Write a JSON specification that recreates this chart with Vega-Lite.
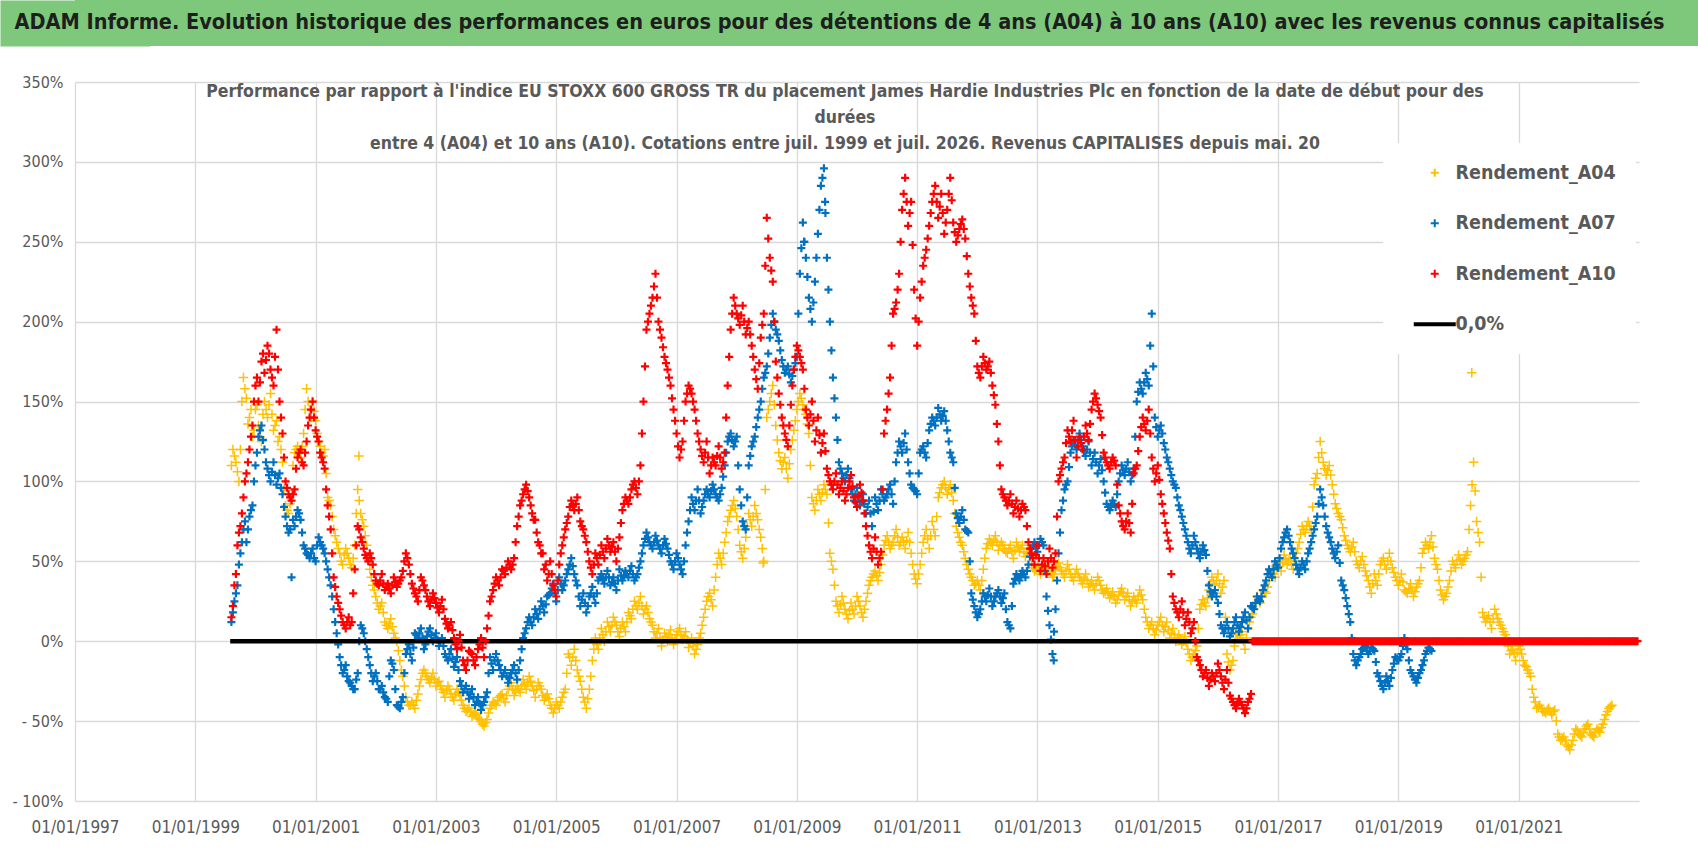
{
  "$schema": "https://vega.github.io/schema/vega-lite/v6.json",
  "padding": 0,
  "background": "white",
  "columns": 1,
  "align": "none",
  "spacing": 28,
  "config": {
    "font": "DejaVu Sans Condensed, Roboto, sans-serif",
    "view": {"stroke": null},
    "axis": {"labelColor": "#595959", "gridColor": "#D9D9D9", "gridWidth": 1.3, "domain": false, "ticks": false, "title": null, "labelFont": "DejaVu Sans Condensed, Roboto, sans-serif"},
    "legend": {"labelFont": "DejaVu Sans Condensed, Roboto, sans-serif"},
    "title": {"font": "DejaVu Sans Condensed, Roboto, sans-serif"}
  },
  "datasets": {
    "r": [
      {"t":1999.60,"a":110,"b":12,"c":15},{"t":1999.65,"a":116,"b":25,"c":35},{"t":1999.70,"a":106,"b":35,"c":60},{"t":1999.75,"a":120,"b":55,"c":72},
      {"t":1999.80,"a":165,"b":70,"c":90},{"t":1999.85,"a":152,"b":62,"c":105},{"t":1999.90,"a":140,"b":78,"c":120},{"t":1999.95,"a":128,"b":85,"c":135},
      {"t":2000.00,"a":145,"b":110,"c":160},{"t":2000.05,"a":135,"b":128,"c":150},{"t":2000.10,"a":125,"b":135,"c":175},{"t":2000.15,"a":150,"b":120,"c":168},
      {"t":2000.20,"a":140,"b":108,"c":185},{"t":2000.25,"a":155,"b":100,"c":170},{"t":2000.30,"a":132,"b":112,"c":160},{"t":2000.35,"a":138,"b":98,"c":195},
      {"t":2000.40,"a":128,"b":105,"c":150},{"t":2000.45,"a":112,"b":92,"c":130},{"t":2000.50,"a":85,"b":78,"c":100},{"t":2000.55,"a":80,"b":68,"c":92},
      {"t":2000.60,"a":92,"b":40,"c":88},{"t":2000.65,"a":118,"b":72,"c":95},{"t":2000.70,"a":122,"b":82,"c":115},{"t":2000.75,"a":115,"b":76,"c":120},
      {"t":2000.80,"a":130,"b":60,"c":110},{"t":2000.85,"a":158,"b":55,"c":125},{"t":2000.90,"a":145,"b":52,"c":140},{"t":2000.95,"a":150,"b":58,"c":150},
      {"t":2001.00,"a":138,"b":50,"c":132},{"t":2001.05,"a":125,"b":65,"c":125},{"t":2001.10,"a":118,"b":60,"c":115},{"t":2001.15,"a":120,"b":55,"c":108},
      {"t":2001.20,"a":90,"b":45,"c":85},{"t":2001.25,"a":85,"b":35,"c":70},{"t":2001.30,"a":70,"b":20,"c":40},{"t":2001.35,"a":62,"b":5,"c":28},
      {"t":2001.40,"a":55,"b":-10,"c":20},{"t":2001.45,"a":48,"b":-20,"c":12},{"t":2001.50,"a":58,"b":-15,"c":8},{"t":2001.55,"a":52,"b":-25,"c":15},
      {"t":2001.60,"a":46,"b":-28,"c":12},{"t":2001.65,"a":60,"b":-30,"c":45},{"t":2001.70,"a":95,"b":-20,"c":72},{"t":2001.75,"a":80,"b":10,"c":65},
      {"t":2001.80,"a":72,"b":5,"c":58},{"t":2001.85,"a":60,"b":-5,"c":52},{"t":2001.90,"a":45,"b":-15,"c":55},{"t":2001.95,"a":35,"b":-25,"c":48},
      {"t":2002.00,"a":28,"b":-20,"c":38},{"t":2002.05,"a":20,"b":-30,"c":35},{"t":2002.10,"a":24,"b":-28,"c":42},{"t":2002.15,"a":12,"b":-35,"c":32},
      {"t":2002.20,"a":8,"b":-38,"c":36},{"t":2002.25,"a":14,"b":-12,"c":30},{"t":2002.30,"a":5,"b":-18,"c":40},{"t":2002.35,"a":0,"b":-40,"c":34},
      {"t":2002.40,"a":-12,"b":-42,"c":38},{"t":2002.45,"a":-22,"b":-35,"c":44},{"t":2002.50,"a":-35,"b":-8,"c":55},{"t":2002.55,"a":-40,"b":-2,"c":48},
      {"t":2002.60,"a":-38,"b":-12,"c":36},{"t":2002.65,"a":-42,"b":5,"c":30},{"t":2002.70,"a":-33,"b":2,"c":25},{"t":2002.75,"a":-24,"b":8,"c":40},
      {"t":2002.80,"a":-18,"b":-5,"c":35},{"t":2002.85,"a":-22,"b":3,"c":28},{"t":2002.90,"a":-26,"b":8,"c":22},{"t":2002.95,"a":-20,"b":0,"c":30},
      {"t":2003.00,"a":-28,"b":5,"c":24},{"t":2003.05,"a":-25,"b":-3,"c":18},{"t":2003.10,"a":-30,"b":2,"c":26},{"t":2003.15,"a":-35,"b":-8,"c":14},
      {"t":2003.20,"a":-28,"b":-12,"c":8},{"t":2003.25,"a":-33,"b":-5,"c":12},{"t":2003.30,"a":-37,"b":-16,"c":2},{"t":2003.35,"a":-30,"b":-10,"c":-5},
      {"t":2003.40,"a":-34,"b":-25,"c":4},{"t":2003.45,"a":-40,"b":-32,"c":-12},{"t":2003.50,"a":-44,"b":-28,"c":-18},{"t":2003.55,"a":-42,"b":-36,"c":-6},
      {"t":2003.60,"a":-47,"b":-30,"c":-8},{"t":2003.65,"a":-45,"b":-40,"c":-15},{"t":2003.70,"a":-48,"b":-35,"c":-5},{"t":2003.75,"a":-50,"b":-43,"c":2},
      {"t":2003.80,"a":-53,"b":-38,"c":-10},{"t":2003.85,"a":-49,"b":-32,"c":8},{"t":2003.90,"a":-42,"b":-10,"c":25},{"t":2003.95,"a":-38,"b":-18,"c":32},
      {"t":2004.00,"a":-40,"b":-8,"c":40},{"t":2004.05,"a":-35,"b":-15,"c":35},{"t":2004.10,"a":-33,"b":-22,"c":45},{"t":2004.15,"a":-38,"b":-18,"c":42},
      {"t":2004.20,"a":-30,"b":-26,"c":50},{"t":2004.25,"a":-26,"b":-20,"c":45},{"t":2004.30,"a":-34,"b":-15,"c":52},{"t":2004.35,"a":-28,"b":-24,"c":72},
      {"t":2004.40,"a":-32,"b":-12,"c":85},{"t":2004.45,"a":-24,"b":2,"c":92},{"t":2004.50,"a":-30,"b":8,"c":98},{"t":2004.55,"a":-22,"b":15,"c":90},
      {"t":2004.60,"a":-28,"b":10,"c":80},{"t":2004.65,"a":-35,"b":20,"c":76},{"t":2004.70,"a":-26,"b":14,"c":62},{"t":2004.75,"a":-30,"b":25,"c":55},
      {"t":2004.80,"a":-37,"b":18,"c":45},{"t":2004.85,"a":-33,"b":28,"c":38},{"t":2004.90,"a":-40,"b":30,"c":50},{"t":2004.95,"a":-45,"b":36,"c":35},
      {"t":2005.00,"a":-38,"b":25,"c":28},{"t":2005.05,"a":-42,"b":40,"c":48},{"t":2005.10,"a":-35,"b":32,"c":60},{"t":2005.15,"a":-30,"b":38,"c":70},
      {"t":2005.20,"a":-8,"b":45,"c":78},{"t":2005.25,"a":-15,"b":52,"c":88},{"t":2005.30,"a":-5,"b":42,"c":82},{"t":2005.35,"a":-18,"b":35,"c":90},
      {"t":2005.40,"a":-25,"b":22,"c":75},{"t":2005.45,"a":-35,"b":30,"c":70},{"t":2005.50,"a":-42,"b":18,"c":62},{"t":2005.55,"a":-30,"b":28,"c":50},
      {"t":2005.60,"a":-12,"b":34,"c":42},{"t":2005.65,"a":2,"b":24,"c":55},{"t":2005.70,"a":-5,"b":38,"c":48},{"t":2005.75,"a":8,"b":42,"c":60},
      {"t":2005.80,"a":0,"b":36,"c":52},{"t":2005.85,"a":12,"b":44,"c":64},{"t":2005.90,"a":6,"b":35,"c":56},{"t":2005.95,"a":15,"b":40,"c":62},
      {"t":2006.00,"a":10,"b":32,"c":50},{"t":2006.05,"a":3,"b":45,"c":65},{"t":2006.10,"a":12,"b":38,"c":82},{"t":2006.15,"a":6,"b":44,"c":90},
      {"t":2006.20,"a":18,"b":40,"c":86},{"t":2006.25,"a":14,"b":47,"c":95},{"t":2006.30,"a":25,"b":38,"c":100},{"t":2006.35,"a":20,"b":42,"c":92},
      {"t":2006.40,"a":28,"b":50,"c":110},{"t":2006.45,"a":17,"b":60,"c":150},{"t":2006.50,"a":22,"b":68,"c":195},{"t":2006.55,"a":14,"b":62,"c":205},
      {"t":2006.60,"a":10,"b":58,"c":215},{"t":2006.65,"a":2,"b":66,"c":230},{"t":2006.70,"a":8,"b":60,"c":200},{"t":2006.75,"a":-3,"b":55,"c":190},
      {"t":2006.80,"a":5,"b":64,"c":178},{"t":2006.85,"a":0,"b":58,"c":170},{"t":2006.90,"a":7,"b":50,"c":160},{"t":2006.95,"a":-2,"b":45,"c":145},
      {"t":2007.00,"a":4,"b":55,"c":130},{"t":2007.05,"a":8,"b":48,"c":115},{"t":2007.10,"a":1,"b":42,"c":125},{"t":2007.15,"a":6,"b":60,"c":150},
      {"t":2007.20,"a":-4,"b":75,"c":160},{"t":2007.25,"a":2,"b":90,"c":155},{"t":2007.30,"a":-8,"b":82,"c":145},{"t":2007.35,"a":-2,"b":95,"c":130},
      {"t":2007.40,"a":5,"b":80,"c":120},{"t":2007.45,"a":15,"b":88,"c":112},{"t":2007.50,"a":25,"b":95,"c":125},{"t":2007.55,"a":30,"b":90,"c":105},
      {"t":2007.60,"a":22,"b":98,"c":115},{"t":2007.65,"a":40,"b":92,"c":110},{"t":2007.70,"a":55,"b":88,"c":122},{"t":2007.75,"a":48,"b":96,"c":108},
      {"t":2007.80,"a":62,"b":110,"c":118},{"t":2007.85,"a":75,"b":125,"c":160},{"t":2007.90,"a":82,"b":130,"c":195},{"t":2007.95,"a":88,"b":122,"c":215},
      {"t":2008.00,"a":78,"b":128,"c":205},{"t":2008.05,"a":60,"b":95,"c":198},{"t":2008.10,"a":52,"b":75,"c":210},{"t":2008.15,"a":65,"b":70,"c":192},
      {"t":2008.20,"a":80,"b":110,"c":200},{"t":2008.25,"a":72,"b":122,"c":185},{"t":2008.30,"a":85,"b":128,"c":170},{"t":2008.35,"a":76,"b":140,"c":158},
      {"t":2008.40,"a":65,"b":150,"c":190},{"t":2008.45,"a":50,"b":165,"c":205},{"t":2008.50,"a":140,"b":172,"c":265},{"t":2008.55,"a":150,"b":190,"c":240},
      {"t":2008.60,"a":160,"b":205,"c":225},{"t":2008.65,"a":135,"b":195,"c":175},{"t":2008.70,"a":118,"b":188,"c":155},{"t":2008.75,"a":108,"b":176,"c":140},
      {"t":2008.80,"a":115,"b":168,"c":130},{"t":2008.85,"a":102,"b":172,"c":122},{"t":2008.90,"a":120,"b":162,"c":148},{"t":2008.95,"a":132,"b":170,"c":170},
      {"t":2009.00,"a":145,"b":178,"c":185},{"t":2009.05,"a":155,"b":230,"c":178},{"t":2009.10,"a":148,"b":262,"c":170},{"t":2009.15,"a":142,"b":240,"c":145},
      {"t":2009.20,"a":130,"b":215,"c":135},{"t":2009.25,"a":90,"b":200,"c":150},{"t":2009.30,"a":82,"b":225,"c":125},{"t":2009.35,"a":95,"b":255,"c":140},
      {"t":2009.40,"a":88,"b":285,"c":118},{"t":2009.45,"a":98,"b":296,"c":130},{"t":2009.50,"a":92,"b":240,"c":108},{"t":2009.55,"a":55,"b":200,"c":100},
      {"t":2009.60,"a":45,"b":165,"c":95},{"t":2009.65,"a":25,"b":140,"c":105},{"t":2009.70,"a":18,"b":112,"c":92},{"t":2009.75,"a":28,"b":105,"c":100},
      {"t":2009.80,"a":20,"b":100,"c":88},{"t":2009.85,"a":14,"b":108,"c":96},{"t":2009.90,"a":24,"b":95,"c":104},{"t":2009.95,"a":17,"b":88,"c":90},
      {"t":2010.00,"a":28,"b":96,"c":84},{"t":2010.05,"a":22,"b":85,"c":98},{"t":2010.10,"a":15,"b":92,"c":88},{"t":2010.15,"a":25,"b":80,"c":72},
      {"t":2010.20,"a":35,"b":88,"c":60},{"t":2010.25,"a":40,"b":72,"c":52},{"t":2010.30,"a":44,"b":90,"c":65},{"t":2010.35,"a":38,"b":82,"c":48},
      {"t":2010.40,"a":48,"b":95,"c":56},{"t":2010.45,"a":60,"b":88,"c":130},{"t":2010.50,"a":66,"b":92,"c":145},{"t":2010.55,"a":58,"b":98,"c":165},
      {"t":2010.60,"a":62,"b":86,"c":205},{"t":2010.65,"a":70,"b":112,"c":212},{"t":2010.70,"a":60,"b":125,"c":230},{"t":2010.75,"a":65,"b":118,"c":270},
      {"t":2010.80,"a":58,"b":130,"c":290},{"t":2010.85,"a":68,"b":112,"c":260},{"t":2010.90,"a":55,"b":98,"c":275},{"t":2010.95,"a":42,"b":95,"c":220},
      {"t":2011.00,"a":36,"b":92,"c":185},{"t":2011.05,"a":48,"b":118,"c":215},{"t":2011.10,"a":62,"b":122,"c":235},{"t":2011.15,"a":70,"b":115,"c":245},
      {"t":2011.20,"a":58,"b":132,"c":260},{"t":2011.25,"a":75,"b":140,"c":275},{"t":2011.30,"a":66,"b":135,"c":285},{"t":2011.35,"a":90,"b":146,"c":265},
      {"t":2011.40,"a":96,"b":138,"c":280},{"t":2011.45,"a":100,"b":144,"c":255},{"t":2011.50,"a":92,"b":132,"c":270},{"t":2011.55,"a":98,"b":118,"c":290},
      {"t":2011.60,"a":88,"b":112,"c":262},{"t":2011.65,"a":72,"b":80,"c":250},{"t":2011.70,"a":65,"b":74,"c":258},{"t":2011.75,"a":60,"b":82,"c":264},
      {"t":2011.80,"a":52,"b":70,"c":252},{"t":2011.85,"a":45,"b":68,"c":230},{"t":2011.90,"a":40,"b":30,"c":215},{"t":2011.95,"a":35,"b":22,"c":205},
      {"t":2012.00,"a":38,"b":15,"c":172},{"t":2012.05,"a":32,"b":20,"c":165},{"t":2012.10,"a":45,"b":30,"c":178},{"t":2012.15,"a":58,"b":25,"c":170},
      {"t":2012.20,"a":64,"b":33,"c":175},{"t":2012.25,"a":60,"b":22,"c":160},{"t":2012.30,"a":66,"b":28,"c":148},{"t":2012.35,"a":57,"b":32,"c":125},
      {"t":2012.40,"a":62,"b":24,"c":95},{"t":2012.45,"a":58,"b":30,"c":90},{"t":2012.50,"a":55,"b":12,"c":85},{"t":2012.55,"a":60,"b":8,"c":92},
      {"t":2012.60,"a":52,"b":36,"c":80},{"t":2012.65,"a":62,"b":42,"c":88},{"t":2012.70,"a":56,"b":38,"c":78},{"t":2012.75,"a":60,"b":44,"c":86},
      {"t":2012.80,"a":53,"b":40,"c":82},{"t":2012.85,"a":58,"b":48,"c":62},{"t":2012.90,"a":48,"b":58,"c":55},{"t":2012.95,"a":44,"b":62,"c":48},
      {"t":2013.00,"a":47,"b":56,"c":60},{"t":2013.05,"a":42,"b":64,"c":44},{"t":2013.10,"a":48,"b":60,"c":52},{"t":2013.15,"a":43,"b":28,"c":42},
      {"t":2013.20,"a":46,"b":10,"c":58},{"t":2013.25,"a":40,"b":-8,"c":46},{"t":2013.30,"a":45,"b":20,"c":55},{"t":2013.35,"a":49,"b":55,"c":100},
      {"t":2013.40,"a":44,"b":82,"c":108},{"t":2013.45,"a":40,"b":95,"c":115},{"t":2013.50,"a":48,"b":100,"c":132},{"t":2013.55,"a":42,"b":118,"c":125},
      {"t":2013.60,"a":38,"b":126,"c":138},{"t":2013.65,"a":45,"b":120,"c":115},{"t":2013.70,"a":40,"b":130,"c":128},{"t":2013.75,"a":36,"b":122,"c":120},
      {"t":2013.80,"a":42,"b":116,"c":135},{"t":2013.85,"a":34,"b":125,"c":126},{"t":2013.90,"a":38,"b":110,"c":145},{"t":2013.95,"a":32,"b":118,"c":155},
      {"t":2014.00,"a":40,"b":105,"c":148},{"t":2014.05,"a":35,"b":114,"c":140},{"t":2014.10,"a":30,"b":100,"c":118},{"t":2014.15,"a":33,"b":86,"c":112},
      {"t":2014.20,"a":27,"b":82,"c":108},{"t":2014.25,"a":31,"b":88,"c":115},{"t":2014.30,"a":24,"b":84,"c":110},{"t":2014.35,"a":29,"b":100,"c":85},
      {"t":2014.40,"a":33,"b":110,"c":75},{"t":2014.45,"a":26,"b":104,"c":70},{"t":2014.50,"a":30,"b":112,"c":80},{"t":2014.55,"a":22,"b":100,"c":68},
      {"t":2014.60,"a":28,"b":108,"c":105},{"t":2014.65,"a":24,"b":150,"c":110},{"t":2014.70,"a":32,"b":162,"c":128},{"t":2014.75,"a":26,"b":155,"c":140},
      {"t":2014.80,"a":15,"b":168,"c":132},{"t":2014.85,"a":8,"b":160,"c":145},{"t":2014.90,"a":12,"b":205,"c":115},{"t":2014.95,"a":4,"b":140,"c":100},
      {"t":2015.00,"a":10,"b":128,"c":110},{"t":2015.05,"a":15,"b":135,"c":92},{"t":2015.10,"a":6,"b":124,"c":80},{"t":2015.15,"a":12,"b":115,"c":68},
      {"t":2015.20,"a":2,"b":108,"c":58},{"t":2015.25,"a":8,"b":100,"c":28},{"t":2015.30,"a":0,"b":96,"c":20},{"t":2015.35,"a":4,"b":85,"c":15},
      {"t":2015.40,"a":-2,"b":78,"c":25},{"t":2015.45,"a":3,"b":70,"c":10},{"t":2015.50,"a":-5,"b":62,"c":18},{"t":2015.55,"a":-12,"b":55,"c":5},
      {"t":2015.60,"a":-8,"b":66,"c":12},{"t":2015.65,"a":-3,"b":58,"c":-10},{"t":2015.70,"a":20,"b":52,"c":-15},{"t":2015.75,"a":26,"b":60,"c":-22},
      {"t":2015.80,"a":22,"b":54,"c":-18},{"t":2015.85,"a":32,"b":35,"c":-28},{"t":2015.90,"a":40,"b":28,"c":-20},{"t":2015.95,"a":35,"b":32,"c":-25},
      {"t":2016.00,"a":42,"b":24,"c":-14},{"t":2016.05,"a":30,"b":10,"c":-22},{"t":2016.10,"a":38,"b":5,"c":-30},{"t":2016.15,"a":-8,"b":12,"c":-18},
      {"t":2016.20,"a":-18,"b":3,"c":-34},{"t":2016.25,"a":-12,"b":8,"c":-38},{"t":2016.30,"a":5,"b":15,"c":-42},{"t":2016.35,"a":2,"b":6,"c":-36},
      {"t":2016.40,"a":6,"b":12,"c":-40},{"t":2016.45,"a":-5,"b":18,"c":-45},{"t":2016.50,"a":8,"b":8,"c":-38},{"t":2016.55,"a":15,"b":22,"c":-33},
      {"t":2016.60,"a":20,"b":20,"c":0},{"t":2016.65,"a":28,"b":28,"c":0},{"t":2016.70,"a":24,"b":25,"c":0},{"t":2016.75,"a":32,"b":32,"c":0},
      {"t":2016.80,"a":30,"b":38,"c":0},{"t":2016.85,"a":38,"b":45,"c":0},{"t":2016.90,"a":45,"b":40,"c":0},{"t":2016.95,"a":40,"b":50,"c":0},
      {"t":2017.00,"a":50,"b":46,"c":0},{"t":2017.05,"a":44,"b":58,"c":0},{"t":2017.10,"a":54,"b":65,"c":0},{"t":2017.15,"a":48,"b":70,"c":0},
      {"t":2017.20,"a":52,"b":62,"c":0},{"t":2017.25,"a":45,"b":55,"c":0},{"t":2017.30,"a":55,"b":48,"c":0},{"t":2017.35,"a":62,"b":42,"c":0},
      {"t":2017.40,"a":72,"b":50,"c":0},{"t":2017.45,"a":68,"b":45,"c":0},{"t":2017.50,"a":75,"b":55,"c":0},{"t":2017.55,"a":70,"b":62,"c":0},
      {"t":2017.60,"a":98,"b":70,"c":0},{"t":2017.65,"a":105,"b":78,"c":0},{"t":2017.70,"a":125,"b":95,"c":0},{"t":2017.75,"a":112,"b":85,"c":0},
      {"t":2017.80,"a":104,"b":72,"c":0},{"t":2017.85,"a":110,"b":65,"c":0},{"t":2017.90,"a":98,"b":58,"c":0},{"t":2017.95,"a":86,"b":52,"c":0},
      {"t":2018.00,"a":80,"b":60,"c":0},{"t":2018.05,"a":76,"b":38,"c":0},{"t":2018.10,"a":66,"b":32,"c":0},{"t":2018.15,"a":60,"b":22,"c":0},
      {"t":2018.20,"a":56,"b":12,"c":0},{"t":2018.25,"a":62,"b":-8,"c":0},{"t":2018.30,"a":50,"b":-15,"c":0},{"t":2018.35,"a":46,"b":-10,"c":0},
      {"t":2018.40,"a":53,"b":-5,"c":0},{"t":2018.45,"a":44,"b":-3,"c":0},{"t":2018.50,"a":38,"b":-8,"c":0},{"t":2018.55,"a":30,"b":-4,"c":0},
      {"t":2018.60,"a":42,"b":-6,"c":0},{"t":2018.65,"a":35,"b":-20,"c":0},{"t":2018.70,"a":48,"b":-25,"c":0},{"t":2018.75,"a":52,"b":-30,"c":0},
      {"t":2018.80,"a":45,"b":-22,"c":0},{"t":2018.85,"a":55,"b":-28,"c":0},{"t":2018.90,"a":46,"b":-18,"c":0},{"t":2018.95,"a":40,"b":-10,"c":0},
      {"t":2019.00,"a":35,"b":-12,"c":0},{"t":2019.05,"a":42,"b":-8,"c":0},{"t":2019.10,"a":32,"b":2,"c":0},{"t":2019.15,"a":30,"b":-5,"c":0},
      {"t":2019.20,"a":36,"b":-18,"c":0},{"t":2019.25,"a":28,"b":-22,"c":0},{"t":2019.30,"a":34,"b":-26,"c":0},{"t":2019.35,"a":38,"b":-20,"c":0},
      {"t":2019.40,"a":55,"b":-15,"c":0},{"t":2019.45,"a":62,"b":-8,"c":0},{"t":2019.50,"a":58,"b":-4,"c":0},{"t":2019.55,"a":66,"b":-6,"c":0},
      {"t":2019.60,"a":52,"c":0},{"t":2019.65,"a":45,"c":0},{"t":2019.70,"a":32,"c":0},{"t":2019.75,"a":26,"c":0},
      {"t":2019.80,"a":30,"c":0},{"t":2019.85,"a":38,"c":0},{"t":2019.90,"a":50,"c":0},{"t":2019.95,"a":46,"c":0},
      {"t":2020.00,"a":54,"c":0},{"t":2020.05,"a":48,"c":0},{"t":2020.10,"a":52,"c":0},{"t":2020.15,"a":56,"c":0},
      {"t":2020.20,"a":85,"c":0},{"t":2020.25,"a":112,"c":0},{"t":2020.30,"a":75,"c":0},{"t":2020.35,"a":62,"c":0},
      {"t":2020.40,"a":18,"c":0},{"t":2020.45,"a":12,"c":0},{"t":2020.50,"a":16,"c":0},{"t":2020.55,"a":8,"c":0},
      {"t":2020.60,"a":20,"c":0},{"t":2020.65,"a":14,"c":0},{"t":2020.70,"a":10,"c":0},{"t":2020.75,"a":6,"c":0},
      {"t":2020.80,"a":2,"c":0},{"t":2020.85,"a":-8,"c":0},{"t":2020.90,"a":-5,"c":0},{"t":2020.95,"a":-12,"c":0},
      {"t":2021.00,"a":-3,"c":0},{"t":2021.05,"a":-8,"c":0},{"t":2021.10,"a":-15,"c":0},{"t":2021.15,"a":-18,"c":0},
      {"t":2021.20,"a":-22,"c":0},{"t":2021.25,"a":-35,"c":0},{"t":2021.30,"a":-42,"c":0},{"t":2021.35,"a":-40,"c":0},
      {"t":2021.40,"a":-44,"c":0},{"t":2021.45,"a":-45,"c":0},{"t":2021.50,"a":-42,"c":0},{"t":2021.55,"a":-46,"c":0},
      {"t":2021.60,"a":-43,"c":0},{"t":2021.65,"a":-58,"c":0},{"t":2021.70,"a":-62,"c":0},{"t":2021.75,"a":-60,"c":0},
      {"t":2021.80,"a":-65,"c":0},{"t":2021.85,"a":-68,"c":0},{"t":2021.90,"a":-62,"c":0},{"t":2021.95,"a":-55,"c":0},
      {"t":2022.00,"a":-58,"c":0},{"t":2022.05,"a":-60,"c":0},{"t":2022.10,"a":-55,"c":0},{"t":2022.15,"a":-52,"c":0},
      {"t":2022.20,"a":-58,"c":0},{"t":2022.25,"a":-60,"c":0},{"t":2022.30,"a":-55,"c":0},{"t":2022.35,"a":-57,"c":0},
      {"t":2022.40,"a":-52,"c":0},{"t":2022.45,"a":-46,"c":0},{"t":2022.50,"a":-42,"c":0},{"t":2022.55,"a":-40,"c":0},
      {"t":2022.60,"c":0},{"t":2022.65,"c":0},{"t":2022.70,"c":0},{"t":2022.75,"c":0},
      {"t":2022.80,"c":0},{"t":2022.85,"c":0},{"t":2022.90,"c":0},{"t":2022.95,"c":0},
      {"t":2020.22,"a":168},{"t":2001.72,"a":116},{"t":2013.27,"b":-12},{"t":2008.44,"a":49},{"t":2009.47,"b":275},{"t":2009.12,"b":250},

      {"t":1999.625,"a":120,"b":18,"c":22},{"t":1999.675,"a":112,"b":30,"c":42},{"t":1999.725,"a":100,"b":48,"c":68},{"t":1999.775,"a":150,"b":62,"c":80},
      {"t":1999.825,"a":158,"b":75,"c":100},{"t":1999.875,"a":136,"b":70,"c":112},{"t":1999.925,"a":145,"b":82,"c":128},{"t":1999.975,"a":132,"b":100,"c":150},
      {"t":2000.025,"a":148,"b":118,"c":165},{"t":2000.075,"a":128,"b":132,"c":162},{"t":2000.125,"a":142,"b":126,"c":180},{"t":2000.175,"a":145,"b":112,"c":176},
      {"t":2000.225,"a":148,"b":104,"c":180},{"t":2000.275,"a":142,"b":106,"c":165},{"t":2000.325,"a":135,"b":104,"c":178},{"t":2000.375,"a":125,"b":102,"c":170},
      {"t":2000.425,"a":120,"b":96,"c":140},{"t":2000.475,"a":95,"b":84,"c":115},{"t":2000.525,"a":82,"b":72,"c":96},{"t":2000.575,"a":86,"b":70,"c":90},
      {"t":2000.625,"a":110,"b":76,"c":92},{"t":2000.675,"a":120,"b":78,"c":108},{"t":2000.725,"a":118,"b":80,"c":118},{"t":2000.775,"a":122,"b":68,"c":112},
      {"t":2000.825,"a":145,"b":58,"c":118},{"t":2000.875,"a":150,"b":54,"c":135},{"t":2000.925,"a":140,"b":55,"c":145},{"t":2000.975,"a":144,"b":52,"c":140},
      {"t":2001.025,"a":130,"b":60,"c":128},{"t":2001.075,"a":122,"b":62,"c":118},{"t":2001.125,"a":116,"b":58,"c":112},{"t":2001.175,"a":105,"b":50,"c":95},
      {"t":2001.225,"a":88,"b":40,"c":78},{"t":2001.275,"a":78,"b":28,"c":55},{"t":2001.325,"a":66,"b":12,"c":34},{"t":2001.375,"a":58,"b":-2,"c":24},
      {"t":2001.425,"a":50,"b":-15,"c":16},{"t":2001.475,"a":54,"b":-18,"c":10},{"t":2001.525,"a":55,"b":-22,"c":12},{"t":2001.575,"a":48,"b":-26,"c":10},
      {"t":2001.625,"a":52,"b":-30,"c":30},{"t":2001.675,"a":80,"b":-24,"c":60},{"t":2001.725,"a":88,"b":0,"c":70},{"t":2001.775,"a":76,"b":8,"c":62},
      {"t":2001.825,"a":66,"b":0,"c":54},{"t":2001.875,"a":52,"b":-10,"c":50},{"t":2001.925,"a":40,"b":-20,"c":52},{"t":2001.975,"a":32,"b":-22,"c":42},
      {"t":2002.025,"a":24,"b":-25,"c":36},{"t":2002.075,"a":22,"b":-30,"c":38},{"t":2002.125,"a":18,"b":-32,"c":36},{"t":2002.175,"a":10,"b":-36,"c":34},
      {"t":2002.225,"a":11,"b":-22,"c":33},{"t":2002.275,"a":9,"b":-14,"c":35},{"t":2002.325,"a":2,"b":-30,"c":37},{"t":2002.375,"a":-6,"b":-41,"c":36},
      {"t":2002.425,"a":-18,"b":-38,"c":40},{"t":2002.475,"a":-28,"b":-20,"c":50},{"t":2002.525,"a":-38,"b":-5,"c":52},{"t":2002.575,"a":-40,"b":-8,"c":42},
      {"t":2002.625,"a":-40,"b":-4,"c":33},{"t":2002.675,"a":-37,"b":4,"c":28},{"t":2002.725,"a":-28,"b":5,"c":32},{"t":2002.775,"a":-20,"b":2,"c":38},
      {"t":2002.825,"a":-20,"b":-2,"c":32},{"t":2002.875,"a":-24,"b":6,"c":25},{"t":2002.925,"a":-23,"b":4,"c":26},{"t":2002.975,"a":-24,"b":2,"c":27},
      {"t":2003.025,"a":-26,"b":1,"c":21},{"t":2003.075,"a":-28,"b":0,"c":22},{"t":2003.125,"a":-32,"b":-3,"c":20},{"t":2003.175,"a":-31,"b":-10,"c":11},
      {"t":2003.225,"a":-30,"b":-8,"c":10},{"t":2003.275,"a":-35,"b":-11,"c":7},{"t":2003.325,"a":-33,"b":-13,"c":-2},{"t":2003.375,"a":-32,"b":-18,"c":0},
      {"t":2003.425,"a":-37,"b":-28,"c":-4},{"t":2003.475,"a":-42,"b":-30,"c":-15},{"t":2003.525,"a":-43,"b":-32,"c":-12},{"t":2003.575,"a":-44,"b":-33,"c":-7},
      {"t":2003.625,"a":-46,"b":-35,"c":-12},{"t":2003.675,"a":-46,"b":-38,"c":-10},{"t":2003.725,"a":-49,"b":-39,"c":-2},{"t":2003.775,"a":-52,"b":-40,"c":-4},
      {"t":2003.825,"a":-51,"b":-35,"c":0},{"t":2003.875,"a":-45,"b":-20,"c":16},{"t":2003.925,"a":-40,"b":-14,"c":28},{"t":2003.975,"a":-39,"b":-12,"c":36},
      {"t":2004.025,"a":-37,"b":-12,"c":38},{"t":2004.075,"a":-34,"b":-18,"c":40},{"t":2004.125,"a":-36,"b":-20,"c":44},{"t":2004.175,"a":-34,"b":-22,"c":46},
      {"t":2004.225,"a":-28,"b":-23,"c":48},{"t":2004.275,"a":-30,"b":-18,"c":48},{"t":2004.325,"a":-31,"b":-20,"c":62},{"t":2004.375,"a":-30,"b":-18,"c":78},
      {"t":2004.425,"a":-28,"b":-5,"c":88},{"t":2004.475,"a":-27,"b":5,"c":95},{"t":2004.525,"a":-26,"b":12,"c":94},{"t":2004.575,"a":-25,"b":12,"c":85},
      {"t":2004.625,"a":-31,"b":15,"c":76},{"t":2004.675,"a":-30,"b":17,"c":68},{"t":2004.725,"a":-28,"b":20,"c":60},{"t":2004.775,"a":-34,"b":22,"c":55},
      {"t":2004.825,"a":-35,"b":23,"c":48},{"t":2004.875,"a":-36,"b":29,"c":42},{"t":2004.925,"a":-42,"b":33,"c":42},{"t":2004.975,"a":-42,"b":30,"c":32},
      {"t":2005.025,"a":-40,"b":32,"c":38},{"t":2005.075,"a":-38,"b":36,"c":55},{"t":2005.125,"a":-32,"b":35,"c":65},{"t":2005.175,"a":-20,"b":42,"c":74},
      {"t":2005.225,"a":-10,"b":48,"c":84},{"t":2005.275,"a":-10,"b":47,"c":85},{"t":2005.325,"a":-12,"b":38,"c":86},{"t":2005.375,"a":-22,"b":28,"c":82},
      {"t":2005.425,"a":-30,"b":26,"c":72},{"t":2005.475,"a":-38,"b":24,"c":66},{"t":2005.525,"a":-36,"b":22,"c":56},{"t":2005.575,"a":-22,"b":30,"c":46},
      {"t":2005.625,"a":-5,"b":28,"c":48},{"t":2005.675,"a":-2,"b":30,"c":52},{"t":2005.725,"a":2,"b":40,"c":54},{"t":2005.775,"a":4,"b":39,"c":56},
      {"t":2005.825,"a":6,"b":40,"c":58},{"t":2005.875,"a":9,"b":40,"c":60},{"t":2005.925,"a":10,"b":37,"c":59},{"t":2005.975,"a":12,"b":36,"c":56},
      {"t":2006.025,"a":6,"b":38,"c":58},{"t":2006.075,"a":8,"b":41,"c":74},{"t":2006.125,"a":9,"b":41,"c":86},{"t":2006.175,"a":12,"b":42,"c":88},
      {"t":2006.225,"a":16,"b":44,"c":90},{"t":2006.275,"a":20,"b":42,"c":98},{"t":2006.325,"a":22,"b":40,"c":96},{"t":2006.375,"a":24,"b":46,"c":100},
      {"t":2006.425,"a":22,"b":55,"c":130},{"t":2006.475,"a":20,"b":64,"c":172},{"t":2006.525,"a":18,"b":65,"c":200},{"t":2006.575,"a":12,"b":60,"c":210},
      {"t":2006.625,"a":6,"b":62,"c":222},{"t":2006.675,"a":5,"b":63,"c":215},{"t":2006.725,"a":2,"b":58,"c":195},{"t":2006.775,"a":1,"b":60,"c":184},
      {"t":2006.825,"a":3,"b":61,"c":174},{"t":2006.875,"a":4,"b":54,"c":165},{"t":2006.925,"a":2,"b":48,"c":152},{"t":2006.975,"a":1,"b":50,"c":138},
      {"t":2007.025,"a":6,"b":52,"c":122},{"t":2007.075,"a":4,"b":45,"c":120},{"t":2007.125,"a":3,"b":50,"c":138},{"t":2007.175,"a":1,"b":68,"c":155},
      {"t":2007.225,"a":-1,"b":82,"c":158},{"t":2007.275,"a":-3,"b":86,"c":150},{"t":2007.325,"a":-5,"b":88,"c":138},{"t":2007.375,"a":2,"b":88,"c":125},
      {"t":2007.425,"a":10,"b":84,"c":116},{"t":2007.475,"a":20,"b":92,"c":118},{"t":2007.525,"a":28,"b":92,"c":115},{"t":2007.575,"a":26,"b":94,"c":110},
      {"t":2007.625,"a":32,"b":95,"c":112},{"t":2007.675,"a":48,"b":90,"c":116},{"t":2007.725,"a":52,"b":92,"c":115},{"t":2007.775,"a":55,"b":103,"c":112},
      {"t":2007.825,"a":68,"b":118,"c":140},{"t":2007.875,"a":78,"b":128,"c":178},{"t":2007.925,"a":85,"b":126,"c":205},{"t":2007.975,"a":83,"b":125,"c":210},
      {"t":2008.025,"a":70,"b":110,"c":202},{"t":2008.075,"a":56,"b":85,"c":204},{"t":2008.125,"a":58,"b":72,"c":200},{"t":2008.175,"a":72,"b":90,"c":196},
      {"t":2008.225,"a":76,"b":116,"c":192},{"t":2008.275,"a":78,"b":125,"c":178},{"t":2008.325,"a":80,"b":134,"c":164},{"t":2008.375,"a":70,"b":145,"c":174},
      {"t":2008.425,"a":58,"b":158,"c":198},{"t":2008.475,"a":95,"b":168,"c":235},{"t":2008.525,"a":145,"b":180,"c":252},{"t":2008.575,"a":155,"b":198,"c":232},
      {"t":2008.625,"a":148,"b":200,"c":200},{"t":2008.675,"a":126,"b":192,"c":165},{"t":2008.725,"a":113,"b":182,"c":148},{"t":2008.775,"a":112,"b":172,"c":135},
      {"t":2008.825,"a":108,"b":170,"c":126},{"t":2008.875,"a":111,"b":167,"c":135},{"t":2008.925,"a":126,"b":166,"c":160},{"t":2008.975,"a":138,"b":174,"c":178},
      {"t":2009.025,"a":150,"b":205,"c":182},{"t":2009.075,"a":152,"b":246,"c":174},{"t":2009.125,"a":145,"b":250,"c":158},{"t":2009.175,"a":136,"b":228,"c":140},
      {"t":2009.225,"a":110,"b":208,"c":142},{"t":2009.275,"a":86,"b":212,"c":138},{"t":2009.325,"a":88,"b":240,"c":132},{"t":2009.375,"a":92,"b":270,"c":129},
      {"t":2009.425,"a":93,"b":290,"c":124},{"t":2009.475,"a":95,"b":268,"c":119},{"t":2009.525,"a":74,"b":220,"c":104},{"t":2009.575,"a":50,"b":182,"c":98},
      {"t":2009.625,"a":35,"b":152,"c":100},{"t":2009.675,"a":22,"b":126,"c":98},{"t":2009.725,"a":23,"b":108,"c":96},{"t":2009.775,"a":24,"b":102,"c":94},
      {"t":2009.825,"a":17,"b":104,"c":92},{"t":2009.875,"a":19,"b":102,"c":100},{"t":2009.925,"a":20,"b":92,"c":97},{"t":2009.975,"a":22,"b":92,"c":87},
      {"t":2010.025,"a":25,"b":90,"c":91},{"t":2010.075,"a":18,"b":88,"c":93},{"t":2010.125,"a":20,"b":86,"c":80},{"t":2010.175,"a":30,"b":84,"c":66},
      {"t":2010.225,"a":38,"b":80,"c":56},{"t":2010.275,"a":42,"b":81,"c":58},{"t":2010.325,"a":41,"b":86,"c":56},{"t":2010.375,"a":43,"b":88,"c":52},
      {"t":2010.425,"a":54,"b":92,"c":95},{"t":2010.475,"a":63,"b":90,"c":138},{"t":2010.525,"a":62,"b":95,"c":155},{"t":2010.575,"a":60,"b":92,"c":185},
      {"t":2010.625,"a":66,"b":100,"c":208},{"t":2010.675,"a":65,"b":118,"c":220},{"t":2010.725,"a":62,"b":122,"c":250},{"t":2010.775,"a":62,"b":124,"c":280},
      {"t":2010.825,"a":63,"b":120,"c":275},{"t":2010.875,"a":62,"b":105,"c":268},{"t":2010.925,"a":48,"b":96,"c":248},{"t":2010.975,"a":39,"b":94,"c":202},
      {"t":2011.025,"a":42,"b":105,"c":200},{"t":2011.075,"a":55,"b":120,"c":225},{"t":2011.125,"a":66,"b":118,"c":240},{"t":2011.175,"a":64,"b":124,"c":252},
      {"t":2011.225,"a":66,"b":136,"c":268},{"t":2011.275,"a":70,"b":138,"c":280},{"t":2011.325,"a":78,"b":140,"c":275},{"t":2011.375,"a":93,"b":142,"c":272},
      {"t":2011.425,"a":98,"b":141,"c":268},{"t":2011.475,"a":96,"b":138,"c":262},{"t":2011.525,"a":95,"b":125,"c":280},{"t":2011.575,"a":93,"b":115,"c":276},
      {"t":2011.625,"a":80,"b":96,"c":256},{"t":2011.675,"a":68,"b":77,"c":254},{"t":2011.725,"a":62,"b":78,"c":261},{"t":2011.775,"a":56,"b":76,"c":258},
      {"t":2011.825,"a":48,"b":69,"c":241},{"t":2011.875,"a":42,"b":50,"c":222},{"t":2011.925,"a":38,"b":26,"c":210},{"t":2011.975,"a":36,"b":18,"c":188},
      {"t":2012.025,"a":35,"b":17,"c":168},{"t":2012.075,"a":38,"b":25,"c":172},{"t":2012.125,"a":52,"b":28,"c":174},{"t":2012.175,"a":61,"b":29,"c":172},
      {"t":2012.225,"a":62,"b":28,"c":168},{"t":2012.275,"a":63,"b":25,"c":154},{"t":2012.325,"a":62,"b":30,"c":136},{"t":2012.375,"a":60,"b":28,"c":110},
      {"t":2012.425,"a":60,"b":27,"c":92},{"t":2012.475,"a":56,"b":20,"c":88},{"t":2012.525,"a":58,"b":10,"c":88},{"t":2012.575,"a":56,"b":22,"c":86},
      {"t":2012.625,"a":57,"b":39,"c":84},{"t":2012.675,"a":59,"b":40,"c":83},{"t":2012.725,"a":58,"b":41,"c":82},{"t":2012.775,"a":56,"b":42,"c":84},
      {"t":2012.825,"a":55,"b":44,"c":72},{"t":2012.875,"a":53,"b":53,"c":58},{"t":2012.925,"a":46,"b":60,"c":52},{"t":2012.975,"a":45,"b":59,"c":54},
      {"t":2013.025,"a":44,"b":60,"c":52},{"t":2013.075,"a":45,"b":62,"c":48},{"t":2013.125,"a":46,"b":44,"c":47},{"t":2013.175,"a":44,"b":19,"c":50},
      {"t":2013.225,"a":43,"b":1,"c":52},{"t":2013.275,"a":42,"b":6,"c":50},{"t":2013.325,"a":47,"b":38,"c":78},{"t":2013.375,"a":46,"b":68,"c":104},
      {"t":2013.425,"a":42,"b":88,"c":112},{"t":2013.475,"a":44,"b":98,"c":124},{"t":2013.525,"a":45,"b":109,"c":128},{"t":2013.575,"a":40,"b":122,"c":132},
      {"t":2013.625,"a":42,"b":123,"c":126},{"t":2013.675,"a":42,"b":125,"c":122},{"t":2013.725,"a":38,"b":126,"c":124},{"t":2013.775,"a":39,"b":119,"c":128},
      {"t":2013.825,"a":38,"b":120,"c":130},{"t":2013.875,"a":36,"b":118,"c":136},{"t":2013.925,"a":35,"b":114,"c":150},{"t":2013.975,"a":36,"b":112,"c":152},
      {"t":2014.025,"a":38,"b":110,"c":144},{"t":2014.075,"a":32,"b":107,"c":129},{"t":2014.125,"a":31,"b":93,"c":115},{"t":2014.175,"a":30,"b":84,"c":110},
      {"t":2014.225,"a":29,"b":85,"c":112},{"t":2014.275,"a":28,"b":86,"c":113},{"t":2014.325,"a":26,"b":92,"c":98},{"t":2014.375,"a":31,"b":105,"c":80},
      {"t":2014.425,"a":30,"b":107,"c":72},{"t":2014.475,"a":28,"b":108,"c":75},{"t":2014.525,"a":26,"b":106,"c":74},{"t":2014.575,"a":25,"b":104,"c":86},
      {"t":2014.625,"a":26,"b":128,"c":108},{"t":2014.675,"a":28,"b":156,"c":119},{"t":2014.725,"a":29,"b":158,"c":134},{"t":2014.775,"a":20,"b":162,"c":136},
      {"t":2014.825,"a":12,"b":164,"c":138},{"t":2014.875,"a":10,"b":185,"c":130},{"t":2014.925,"a":8,"b":172,"c":108},{"t":2014.975,"a":7,"b":134,"c":105},
      {"t":2015.025,"a":12,"b":132,"c":101},{"t":2015.075,"a":10,"b":130,"c":86},{"t":2015.125,"a":9,"b":120,"c":74},{"t":2015.175,"a":7,"b":112,"c":63},
      {"t":2015.225,"a":5,"b":104,"c":42},{"t":2015.275,"a":4,"b":98,"c":24},{"t":2015.325,"a":2,"b":90,"c":18},{"t":2015.375,"a":1,"b":82,"c":20},
      {"t":2015.425,"a":0,"b":74,"c":18},{"t":2015.475,"a":-1,"b":66,"c":14},{"t":2015.525,"a":-8,"b":58,"c":12},{"t":2015.575,"a":-10,"b":60,"c":8},
      {"t":2015.625,"a":-6,"b":62,"c":0},{"t":2015.675,"a":8,"b":55,"c":-12},{"t":2015.725,"a":23,"b":56,"c":-18},{"t":2015.775,"a":24,"b":57,"c":-20},
      {"t":2015.825,"a":27,"b":44,"c":-23},{"t":2015.875,"a":36,"b":31,"c":-24},{"t":2015.925,"a":38,"b":30,"c":-22},{"t":2015.975,"a":38,"b":28,"c":-20},
      {"t":2016.025,"a":36,"b":17,"c":-18},{"t":2016.075,"a":34,"b":8,"c":-26},{"t":2016.125,"a":15,"b":8,"c":-24},{"t":2016.175,"a":-13,"b":8,"c":-26},
      {"t":2016.225,"a":-15,"b":5,"c":-36},{"t":2016.275,"a":-3,"b":12,"c":-40},{"t":2016.325,"a":4,"b":10,"c":-39},{"t":2016.375,"a":4,"b":9,"c":-38},
      {"t":2016.425,"a":0,"b":15,"c":-42},{"t":2016.475,"a":2,"b":13,"c":-42},{"t":2016.525,"a":12,"b":15,"c":-36},{"t":2016.575,"a":17,"b":21,"c":0},
      {"t":2016.625,"a":24,"b":24,"c":0},{"t":2016.675,"a":26,"b":26,"c":0},{"t":2016.725,"a":28,"b":28,"c":0},{"t":2016.775,"a":31,"b":35,"c":0},
      {"t":2016.825,"a":34,"b":42,"c":0},{"t":2016.875,"a":42,"b":42,"c":0},{"t":2016.925,"a":42,"b":45,"c":0},{"t":2016.975,"a":45,"b":48,"c":0},
      {"t":2017.025,"a":47,"b":52,"c":0},{"t":2017.075,"a":49,"b":62,"c":0},{"t":2017.125,"a":51,"b":68,"c":0},{"t":2017.175,"a":50,"b":66,"c":0},
      {"t":2017.225,"a":48,"b":58,"c":0},{"t":2017.275,"a":50,"b":52,"c":0},{"t":2017.325,"a":58,"b":45,"c":0},{"t":2017.375,"a":67,"b":46,"c":0},
      {"t":2017.425,"a":70,"b":48,"c":0},{"t":2017.475,"a":72,"b":50,"c":0},{"t":2017.525,"a":72,"b":58,"c":0},{"t":2017.575,"a":84,"b":66,"c":0},
      {"t":2017.625,"a":102,"b":74,"c":0},{"t":2017.675,"a":115,"b":86,"c":0},{"t":2017.725,"a":118,"b":90,"c":0},{"t":2017.775,"a":108,"b":78,"c":0},
      {"t":2017.825,"a":107,"b":68,"c":0},{"t":2017.875,"a":104,"b":62,"c":0},{"t":2017.925,"a":92,"b":55,"c":0},{"t":2017.975,"a":83,"b":56,"c":0},
      {"t":2018.025,"a":78,"b":49,"c":0},{"t":2018.075,"a":71,"b":35,"c":0},{"t":2018.125,"a":63,"b":27,"c":0},{"t":2018.175,"a":58,"b":17,"c":0},
      {"t":2018.225,"a":59,"b":2,"c":0},{"t":2018.275,"a":56,"b":-12,"c":0},{"t":2018.325,"a":48,"b":-12,"c":0},{"t":2018.375,"a":50,"b":-8,"c":0},
      {"t":2018.425,"a":48,"b":-4,"c":0},{"t":2018.475,"a":41,"b":-6,"c":0},{"t":2018.525,"a":34,"b":-6,"c":0},{"t":2018.575,"a":36,"b":-5,"c":0},
      {"t":2018.625,"a":38,"b":-13,"c":0},{"t":2018.675,"a":42,"b":-22,"c":0},{"t":2018.725,"a":50,"b":-28,"c":0},{"t":2018.775,"a":48,"b":-26,"c":0},
      {"t":2018.825,"a":50,"b":-25,"c":0},{"t":2018.875,"a":50,"b":-23,"c":0},{"t":2018.925,"a":43,"b":-14,"c":0},{"t":2018.975,"a":38,"b":-11,"c":0},
      {"t":2019.025,"a":38,"b":-10,"c":0},{"t":2019.075,"a":37,"b":-3,"c":0},{"t":2019.125,"a":31,"b":-2,"c":0},{"t":2019.175,"a":33,"b":-12,"c":0},
      {"t":2019.225,"a":32,"b":-20,"c":0},{"t":2019.275,"a":31,"b":-24,"c":0},{"t":2019.325,"a":36,"b":-23,"c":0},{"t":2019.375,"a":46,"b":-18,"c":0},
      {"t":2019.425,"a":58,"b":-12,"c":0},{"t":2019.475,"a":60,"b":-6,"c":0},{"t":2019.525,"a":62,"b":-5,"c":0},{"t":2019.575,"a":59,"c":0},
      {"t":2019.625,"a":48,"c":0},{"t":2019.675,"a":38,"c":0},{"t":2019.725,"a":29,"c":0},{"t":2019.775,"a":28,"c":0},
      {"t":2019.825,"a":34,"c":0},{"t":2019.875,"a":44,"c":0},{"t":2019.925,"a":48,"c":0},{"t":2019.975,"a":50,"c":0},
      {"t":2020.025,"a":51,"c":0},{"t":2020.075,"a":50,"c":0},{"t":2020.125,"a":54,"c":0},{"t":2020.175,"a":70,"c":0},
      {"t":2020.225,"a":98,"c":0},{"t":2020.275,"a":94,"c":0},{"t":2020.325,"a":68,"c":0},{"t":2020.375,"a":40,"c":0},
      {"t":2020.425,"a":15,"c":0},{"t":2020.475,"a":14,"c":0},{"t":2020.525,"a":12,"c":0},{"t":2020.575,"a":14,"c":0},
      {"t":2020.625,"a":17,"c":0},{"t":2020.675,"a":12,"c":0},{"t":2020.725,"a":8,"c":0},{"t":2020.775,"a":4,"c":0},
      {"t":2020.825,"a":-3,"c":0},{"t":2020.875,"a":-6,"c":0},{"t":2020.925,"a":-8,"c":0},{"t":2020.975,"a":-7,"c":0},
      {"t":2021.025,"a":-5,"c":0},{"t":2021.075,"a":-12,"c":0},{"t":2021.125,"a":-16,"c":0},{"t":2021.175,"a":-20,"c":0},
      {"t":2021.225,"a":-30,"c":0},{"t":2021.275,"a":-38,"c":0},{"t":2021.325,"a":-41,"c":0},{"t":2021.375,"a":-42,"c":0},
      {"t":2021.425,"a":-44,"c":0},{"t":2021.475,"a":-43,"c":0},{"t":2021.525,"a":-44,"c":0},{"t":2021.575,"a":-44,"c":0},
      {"t":2021.625,"a":-50,"c":0},{"t":2021.675,"a":-60,"c":0},{"t":2021.725,"a":-61,"c":0},{"t":2021.775,"a":-62,"c":0},
      {"t":2021.825,"a":-66,"c":0},{"t":2021.875,"a":-65,"c":0},{"t":2021.925,"a":-58,"c":0},{"t":2021.975,"a":-56,"c":0},
      {"t":2022.025,"a":-59,"c":0},{"t":2022.075,"a":-57,"c":0},{"t":2022.125,"a":-53,"c":0},{"t":2022.175,"a":-55,"c":0},
      {"t":2022.225,"a":-59,"c":0},{"t":2022.275,"a":-57,"c":0},{"t":2022.325,"a":-56,"c":0},{"t":2022.375,"a":-54,"c":0},
      {"t":2022.425,"a":-49,"c":0},{"t":2022.475,"a":-44,"c":0},{"t":2022.525,"a":-41,"c":0},{"t":2022.575,"c":0},
      {"t":2022.625,"c":0},{"t":2022.675,"c":0},{"t":2022.725,"c":0},{"t":2022.775,"c":0},
      {"t":2022.825,"c":0},{"t":2022.875,"c":0},{"t":2022.925,"c":0},{"t":2022.975,"c":0}
    ]
  },
  "concat": [
    {
      "width": 1623,
      "height": 46,
      "view": {"fill": "#7DC87B", "stroke": null},
      "data": {"values": [{"txt": "ADAM Informe. Evolution historique des performances en euros pour des détentions de 4 ans (A04) à 10 ans (A10) avec les revenus connus capitalisés"}]},
      "mark": {"type": "text", "fontSize": 21.5, "fontWeight": "bold", "color": "#1E1E1E", "dx": -47, "font": "DejaVu Sans Condensed, Roboto, sans-serif"},
      "encoding": {
        "text": {"field": "txt"},
        "y": {"datum": 0.5, "type": "quantitative", "scale": {"domain": [0, 1]},
          "axis": {"labels": false, "ticks": false, "grid": false, "domain": true, "domainColor": "#7DC87B", "domainWidth": 150, "domainCap": "butt", "offset": 0, "minExtent": 75, "maxExtent": 75, "title": null}}
      }
    },
    {
      "width": 1564,
      "height": 719,
      "title": {
        "text": [
          "Performance par rapport à l'indice EU STOXX 600 GROSS TR  du placement James Hardie Industries Plc en fonction de la date de début pour des",
          "durées",
          "entre 4 (A04) et 10 ans (A10). Cotations entre juil. 1999 et juil. 2026. Revenus CAPITALISES depuis mai. 20"
        ],
        "anchor": "middle",
        "frame": "group",
        "offset": -78,
        "dx": -12,
        "fontSize": 17.5,
        "fontWeight": "bold",
        "color": "#595959",
        "lineHeight": 26
      },
      "layer": [
        {
          "mark": {"type": "rect", "fill": "white"},
          "encoding": {
            "x": {"datum": 1998.9, "type": "quantitative", "scale": {"domain": [1997, 2023], "nice": false, "zero": false}},
            "x2": {"datum": 2020.69},
            "y": {"datum": 301, "type": "quantitative", "scale": {"domain": [-100, 350], "nice": false, "zero": false}},
            "y2": {"datum": 352}
          }
        },
        {
          "mark": {"type": "rule", "color": "#BFBFBF", "strokeWidth": 1.6},
          "encoding": {
            "y": {"datum": -25, "type": "quantitative", "scale": {"domain": [-100, 350], "nice": false, "zero": false}}
          }
        },
        {
          "data": {"name": "r"},
          "transform": [{"fold": ["a"], "as": ["s", "v"]}, {"filter": "isValid(datum.v)"}],
          "mark": {"type": "point", "filled": false, "strokeWidth": 1.5, "size": 90, "opacity": 1},
          "encoding": {
            "x": {"field": "t", "type": "quantitative", "scale": {"domain": [1997, 2023], "nice": false, "zero": false},
              "axis": {"values": [1997, 1999, 2001, 2003, 2005, 2007, 2009, 2011, 2013, 2015, 2017, 2019, 2021], "labelExpr": "'01/01/' + datum.value", "labelFlush": false, "labelOverlap": false, "labelFontSize": 17, "labelPadding": 18, "grid": true}},
            "y": {"field": "v", "type": "quantitative", "scale": {"domain": [-100, 350], "nice": false, "zero": false},
              "axis": {"values": [-100, -50, 0, 50, 100, 150, 200, 250, 300, 350], "labelExpr": "(datum.value < 0 ? '- ' + abs(datum.value) : datum.value) + '%'", "labelFontSize": 16, "labelPadding": 12, "minExtent": 75, "maxExtent": 75, "grid": true}},
            "color": {"field": "s", "type": "nominal",
              "scale": {"domain": ["a", "b", "c", "z"], "range": ["#FFC000", "#0070C0", "#FF0000", "#000000"]},
              "legend": {"title": null, "orient": "none", "legendX": 1308, "legendY": 143, "padding": 20, "fillColor": "white", "labelExpr": "datum.label == 'a' ? 'Rendement_A04' : datum.label == 'b' ? 'Rendement_A07' : datum.label == 'c' ? 'Rendement_A10' : '0,0%'", "symbolSize": 64, "symbolStrokeWidth": 2, "symbolOpacity": 1, "symbolOffset": 22, "labelFontSize": 19.5, "labelFontWeight": "bold", "labelColor": "#595959", "labelOffset": 11, "labelLimit": 400, "rowPadding": 29.5}},
            "shape": {"field": "s", "type": "nominal",
              "scale": {"domain": ["a", "b", "c", "z"], "range": ["M-1,0H1M0,-1V1", "M-1,0H1M0,-1V1", "M-1,0H1M0,-1V1", "M-5,-0.25H5V0.25H-5Z"]},
              "legend": {"title": null, "orient": "none", "legendX": 1308, "legendY": 143, "padding": 20, "fillColor": "white", "labelExpr": "datum.label == 'a' ? 'Rendement_A04' : datum.label == 'b' ? 'Rendement_A07' : datum.label == 'c' ? 'Rendement_A10' : '0,0%'", "symbolSize": 64, "symbolStrokeWidth": 2, "symbolOpacity": 1, "symbolOffset": 22, "labelFontSize": 19.5, "labelFontWeight": "bold", "labelColor": "#595959", "labelOffset": 11, "labelLimit": 400, "rowPadding": 29.5}}
          }
        },
        {
          "data": {"name": "r"},
          "transform": [{"fold": ["b"], "as": ["s", "v"]}, {"filter": "isValid(datum.v)"}],
          "mark": {"type": "point", "filled": false, "strokeWidth": 2.2, "size": 64, "opacity": 1},
          "encoding": {
            "x": {"field": "t", "type": "quantitative", "scale": {"domain": [1997, 2023], "nice": false, "zero": false}},
            "y": {"field": "v", "type": "quantitative", "scale": {"domain": [-100, 350], "nice": false, "zero": false}},
            "color": {"field": "s", "type": "nominal", "scale": {"domain": ["a", "b", "c", "z"], "range": ["#FFC000", "#0070C0", "#FF0000", "#000000"]}},
            "shape": {"field": "s", "type": "nominal", "scale": {"domain": ["a", "b", "c", "z"], "range": ["M-1,0H1M0,-1V1", "M-1,0H1M0,-1V1", "M-1,0H1M0,-1V1", "M-5,-0.25H5V0.25H-5Z"]}}
          }
        },
        {
          "data": {"values": [{"t": 1999.58, "v": 0, "s": "z"}, {"t": 2016.57, "v": 0, "s": "z"}]},
          "mark": {"type": "line", "strokeWidth": 4.5},
          "encoding": {
            "x": {"field": "t", "type": "quantitative", "scale": {"domain": [1997, 2023], "nice": false, "zero": false}},
            "y": {"field": "v", "type": "quantitative", "scale": {"domain": [-100, 350], "nice": false, "zero": false}},
            "color": {"field": "s", "type": "nominal", "scale": {"domain": ["a", "b", "c", "z"], "range": ["#FFC000", "#0070C0", "#FF0000", "#000000"]}}
          }
        },
        {
          "data": {"name": "r"},
          "transform": [{"fold": ["c"], "as": ["s", "v"]}, {"filter": "isValid(datum.v)"}],
          "mark": {"type": "point", "filled": false, "strokeWidth": 2.2, "size": 64, "opacity": 1},
          "encoding": {
            "x": {"field": "t", "type": "quantitative", "scale": {"domain": [1997, 2023], "nice": false, "zero": false}},
            "y": {"field": "v", "type": "quantitative", "scale": {"domain": [-100, 350], "nice": false, "zero": false}},
            "color": {"field": "s", "type": "nominal", "scale": {"domain": ["a", "b", "c", "z"], "range": ["#FFC000", "#0070C0", "#FF0000", "#000000"]}},
            "shape": {"field": "s", "type": "nominal", "scale": {"domain": ["a", "b", "c", "z"], "range": ["M-1,0H1M0,-1V1", "M-1,0H1M0,-1V1", "M-1,0H1M0,-1V1", "M-5,-0.25H5V0.25H-5Z"]}}
          }
        }
      ]
    }
  ]
}
